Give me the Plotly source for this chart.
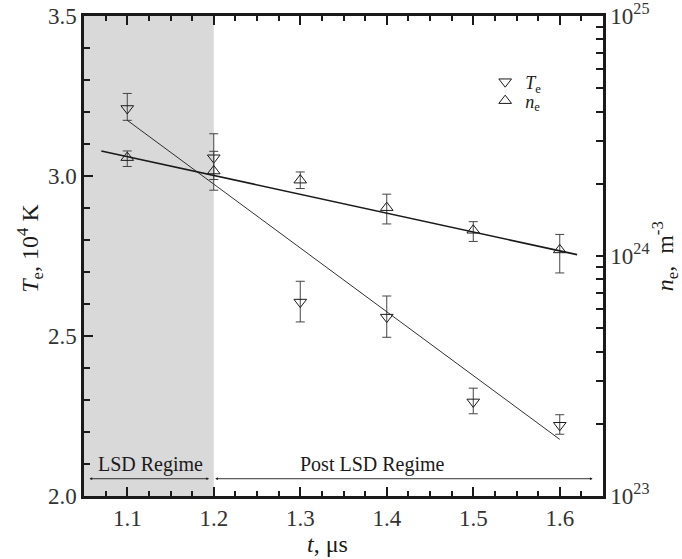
import plotly.graph_objects as go

# ---- data ----
t = [1.1, 1.2, 1.3, 1.4, 1.5, 1.6]
Te = [3.211, 3.057, 2.606, 2.559, 2.294, 2.221]          # 10^4 K
Te_plus = [0.047, 0.075, 0.065, 0.066, 0.043, 0.033]
Te_minus = [0.037, 0.068, 0.062, 0.063, 0.037, 0.028]

ne = [2.57e24, 2.26e24, 2.07e24, 1.59e24, 1.28e24, 1.06e24]  # m^-3
ne_plus = [0.17e24, 0.47e24, 0.17e24, 0.22e24, 0.11e24, 0.17e24]
ne_minus = [0.21e24, 0.38e24, 0.16e24, 0.23e24, 0.13e24, 0.21e24]

fit_t_Te = [1.1, 1.6]
fit_Te = [3.174, 2.177]
fit_t_ne = [1.07, 1.62]
fit_ne = [2.74e24, 1.013e24]

lsd_span = [1.05, 1.2]
regime_y = 2.054
lsd_arrow = [1.0546, 1.1945]
post_arrow = [1.2, 1.638]
regime_labels = ["LSD Regime", "Post LSD Regime"]
regime_label_x = [1.127, 1.384]
regime_label_y = 2.098

x_ticks = [1.1, 1.2, 1.3, 1.4, 1.5, 1.6]
y_ticks = [2.0, 2.5, 3.0, 3.5]
ne_major = [1e23, 1e24, 1e25]
ne_major_text = ["10<sup>23</sup>", "10<sup>24</sup>", "10<sup>25</sup>"]

FONT = "Liberation Serif, Times New Roman, serif"
INK = "#1a1a1a"

fig = go.Figure()

fig.add_trace(go.Scatter(
    x=t, y=Te, mode="markers", name="<i>T</i><sub>e</sub>", legend="legend",
    marker=dict(symbol="triangle-down-open", size=11, color=INK, line=dict(width=1, color=INK)),
    error_y=dict(type="data", symmetric=False, array=Te_plus, arrayminus=Te_minus,
                 color="#444444", thickness=1, width=4.5),
    yaxis="y"))
fig.add_trace(go.Scatter(
    x=t, y=ne, mode="markers", name="<i>n</i><sub>e</sub>", legend="legend2",
    marker=dict(symbol="triangle-up-open", size=11, color=INK, line=dict(width=1, color=INK)),
    error_y=dict(type="data", symmetric=False, array=ne_plus, arrayminus=ne_minus,
                 color="#444444", thickness=1, width=4.5),
    yaxis="y2"))
fig.add_trace(go.Scatter(x=fit_t_Te, y=fit_Te, mode="lines", showlegend=False,
                         line=dict(color=INK, width=0.9), yaxis="y"))
fig.add_trace(go.Scatter(x=fit_t_ne, y=fit_ne, mode="lines", showlegend=False,
                         line=dict(color=INK, width=1.6), yaxis="y2"))

fig.add_shape(type="rect", xref="x", yref="paper", x0=lsd_span[0], x1=lsd_span[1],
              y0=0, y1=1, fillcolor="#d9d9d9", line=dict(width=0), layer="below")

for seg in (lsd_arrow, post_arrow):
    fig.add_annotation(x=seg[1], y=regime_y, ax=seg[0], ay=regime_y,
                       xref="x", yref="y", axref="x", ayref="y", text="",
                       showarrow=True, arrowhead=2, arrowside="end+start",
                       arrowsize=0.6, arrowwidth=0.9, arrowcolor=INK)
for lab, lx in zip(regime_labels, regime_label_x):
    fig.add_annotation(x=lx, y=regime_label_y, xref="x", yref="y", text=lab,
                       showarrow=False, font=dict(family=FONT, size=20, color=INK))

# axis titles as annotations (positioned like the reference)
title_font = dict(family=FONT, size=24, color=INK)
fig.add_annotation(x=-0.104, y=0.515, xref="paper", yref="paper", textangle=-90,
                   xanchor="center", yanchor="middle",
                   text="<i>T</i><sub>e</sub>, 10<sup>4</sup> K", showarrow=False,
                   font=title_font)
fig.add_annotation(x=1.12, y=0.5, xref="paper", yref="paper", textangle=-90,
                   xanchor="center", yanchor="middle",
                   text="<i>n</i><sub>e</sub>,  m<sup>-3</sup>", showarrow=False,
                   font=title_font)
fig.add_annotation(x=0.47, y=-0.1, xref="paper", yref="paper",
                   xanchor="center", yanchor="middle",
                   text="<i>t</i>, μs", showarrow=False, font=title_font)

axis_common = dict(showline=True, linecolor=INK, linewidth=2.5, ticks="inside",
                   tickcolor=INK, tickwidth=2, showgrid=False, zeroline=False,
                   automargin=False,
                   tickfont=dict(family=FONT, size=23, color="#333333"))

legend_common = dict(xanchor="left", yanchor="middle", bgcolor="rgba(0,0,0,0)",
                     font=dict(family=FONT, size=18, color=INK), itemwidth=30)

fig.update_layout(
    width=682, height=559,
    margin=dict(l=84, r=79, t=16, b=63),
    paper_bgcolor="white", plot_bgcolor="white",
    xaxis=dict(range=[1.05, 1.65], tickvals=x_ticks, ticklen=9, mirror="ticks",
               minor=dict(dtick=0.025, ticklen=5, tickwidth=2, tickcolor=INK, ticks="inside"),
               **axis_common),
    yaxis=dict(range=[2.0, 3.5], tickvals=y_ticks, ticklen=9, tickformat=".1f",
               minor=dict(dtick=0.1, ticklen=6, tickwidth=2, tickcolor=INK, ticks="inside"),
               **axis_common),
    yaxis2=dict(type="log", range=[23, 25], overlaying="y", side="right",
                tickvals=ne_major, ticktext=ne_major_text, ticklen=7,
                minor=dict(ticks="inside", ticklen=7, tickwidth=2, tickcolor=INK, dtick="D1"),
                **axis_common),
    legend=dict(x=0.773, y=0.8625, **legend_common),
    legend2=dict(x=0.773, y=0.823, **legend_common),
    showlegend=True,
)

# remove the default page margin so the figure sits at the window's top-left corner
fig.write_html("out.html", config={"displayModeBar": False},
               post_script="document.body.style.margin='0px';")
